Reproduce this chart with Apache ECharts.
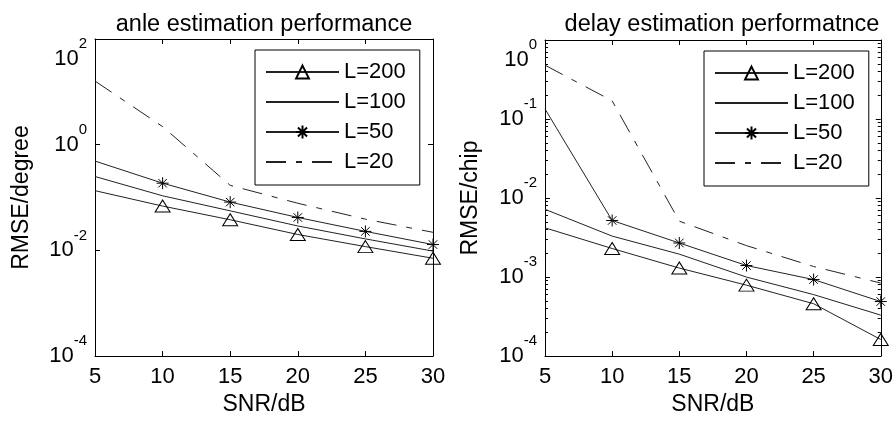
<!DOCTYPE html>
<html><head><meta charset="utf-8">
<script src="https://cdn.jsdelivr.net/npm/echarts@6/dist/echarts.min.js"></script>
<style>html,body{margin:0;padding:0;background:#fff}#c{width:896px;height:421px}</style>
</head><body><div id="c"></div>
<script>
// ---- data ----
const snr = [5, 10, 15, 20, 25, 30];
const seriesNames = ['L=200', 'L=100', 'L=50', 'L=20'];

const angleL200 = [0.135, 0.069, 0.038, 0.020, 0.0118, 0.0071];
const angleL100 = [0.25, 0.108, 0.056, 0.029, 0.0165, 0.0097];
const angleL50  = [0.49, 0.187, 0.082, 0.042, 0.0229, 0.0129];
const angleL20  = [16, 2.2, 0.17, 0.078, 0.039, 0.022];

const delayL200 = [0.0042, 0.0023, 0.0013, 0.00079, 0.00046, 0.000162];
const delayL100 = [0.0072, 0.0033, 0.00195, 0.0010, 0.0006, 0.00033];
const delayL50  = [0.134, 0.0052, 0.0027, 0.0014, 0.00093, 0.00049];
const delayL20  = [0.48, 0.17, 0.0051, 0.0025, 0.00136, 0.00084];

const xTicks = [5, 10, 15, 20, 25, 30];
const angleYTicks = [1e-4, 1e-2, 1, 1e2];
const delayYTicks = [1e-4, 1e-3, 1e-2, 1e-1, 1];
const delayMinorTicks = [2e-4,3e-4,4e-4,5e-4,6e-4,7e-4,8e-4,9e-4,
  2e-3,3e-3,4e-3,5e-3,6e-3,7e-3,8e-3,9e-3,
  2e-2,3e-2,4e-2,5e-2,6e-2,7e-2,8e-2,9e-2,
  0.2,0.3,0.4,0.5,0.6,0.7,0.8,0.9];

const titles = ['anle estimation performance', 'delay estimation performatnce'];
const yNames = ['RMSE/degree', 'RMSE/chip'];
const xName = 'SNR/dB';

// ---- style ----
const FF = 'Liberation Sans, Arial, sans-serif';
const BLACK = '#000';
const LINE = '#222';
const ASTER = 'path://M0,-10L0,10M-10,0L10,0M-7.07,-7.07L7.07,7.07M-7.07,7.07L7.07,-7.07';

function labelFmt(maxV) {
  return function (v) {
    const e = Math.round(Math.log10(v));
    if (Math.abs(v - maxV) < maxV * 1e-6) return '{bt|10}{et|' + e + '}';
    return '{b|10}{e|' + e + '}';
  };
}
const rich = {
  b: { fontSize: 22, fontFamily: FF, color: BLACK },
  e: { fontSize: 15, fontFamily: FF, color: BLACK, padding: [0, 0, 30, 0] },
  bt: { fontSize: 22, fontFamily: FF, color: BLACK, padding: [40, 0, 0, 0] },
  et: { fontSize: 15, fontFamily: FF, color: BLACK, padding: [10, 0, 0, 0] }
};

function xAxes(gi) {
  const base = {
    type: 'value', gridIndex: gi, min: 5, max: 30, interval: 5,
    axisLine: { show: true, lineStyle: { color: BLACK, width: 1 } },
    axisTick: { show: true, inside: true, length: 5, customValues: xTicks, lineStyle: { color: BLACK } },
    splitLine: { show: false }
  };
  return [
    Object.assign({}, base, {
      position: 'bottom',
      axisLabel: { show: true, customValues: xTicks, fontSize: 22, fontFamily: FF, color: BLACK, margin: 10 },
      name: xName, nameLocation: 'middle', nameGap: 31,
      nameTextStyle: { fontSize: 23, fontFamily: FF, color: BLACK }
    }),
    Object.assign({}, base, { position: 'top', axisLabel: { show: false } })
  ];
}

function yAxes(gi, min, max, majors, minors, name, gap) {
  const base = {
    type: 'log', logBase: 10, gridIndex: gi, min: min, max: max,
    splitLine: { show: false }
  };
  const list = [
    Object.assign({}, base, {
      position: 'left',
      axisLine: { show: true, lineStyle: { color: BLACK, width: 1 } },
      axisTick: { show: true, inside: true, length: 5, customValues: majors, lineStyle: { color: BLACK } },
      axisLabel: { show: true, customValues: majors, margin: 8, formatter: labelFmt(max), rich: rich },
      name: name, nameLocation: 'middle', nameGap: gap,
      nameTextStyle: { fontSize: 23, fontFamily: FF, color: BLACK }
    }),
    Object.assign({}, base, {
      position: 'right',
      axisLine: { show: true, lineStyle: { color: BLACK, width: 1 } },
      axisTick: { show: true, inside: true, length: 5, customValues: majors, lineStyle: { color: BLACK } },
      axisLabel: { show: false }
    })
  ];
  if (minors) {
    ['left', 'right'].forEach(function (p) {
      list.push(Object.assign({}, base, {
        position: p,
        axisLine: { show: false },
        axisTick: { show: true, inside: true, length: 3, customValues: minors, lineStyle: { color: BLACK } },
        axisLabel: { show: false }
      }));
    });
  }
  return list;
}

// first sample (SNR=5) is drawn without a marker, as in the reference
function zip(arr) {
  return snr.map(function (x, i) {
    return i === 0 ? { value: [x, arr[i]], symbol: 'none' } : [x, arr[i]];
  });
}

function makeSeries(xi, yi, d200, d100, d50, d20) {
  const common = { type: 'line', xAxisIndex: xi, yAxisIndex: yi, animation: false, z: 3 };
  return [
    Object.assign({}, common, {
      name: seriesNames[0], data: zip(d200), symbol: 'triangle', symbolSize: [15, 12],
      lineStyle: { color: LINE, width: 1 },
      itemStyle: { color: 'rgba(255,255,255,0)', borderColor: BLACK, borderWidth: 1 }
    }),
    Object.assign({}, common, {
      name: seriesNames[1], data: zip(d100), symbol: 'none',
      lineStyle: { color: LINE, width: 1 }, itemStyle: { color: LINE }
    }),
    Object.assign({}, common, {
      name: seriesNames[2], data: zip(d50), symbol: ASTER, symbolSize: 12,
      lineStyle: { color: LINE, width: 1 },
      itemStyle: { color: 'rgba(255,255,255,0)', borderColor: BLACK, borderWidth: 1 }
    }),
    Object.assign({}, common, {
      name: seriesNames[3], data: zip(d20), symbol: 'none',
      lineStyle: { color: LINE, width: 1, type: [20, 10, 6, 10] }, itemStyle: { color: LINE }
    })
  ];
}

const hiddenMark = { opacity: 0, color: 'rgba(0,0,0,0)', borderWidth: 0 };
function legend(left, top) {
  return {
    left: left, top: top, orient: 'vertical', selectedMode: false,
    itemWidth: 73, itemHeight: 16, itemGap: 8,
    padding: [11, 14, 12, 10],
    borderColor: BLACK, borderWidth: 1, backgroundColor: '#fff',
    textStyle: { fontSize: 22, fontFamily: FF, color: BLACK, lineHeight: 22 },
    data: [
      { name: seriesNames[0] },
      { name: seriesNames[1], itemStyle: hiddenMark },
      { name: seriesNames[2] },
      { name: seriesNames[3], itemStyle: hiddenMark }
    ]
  };
}

const yA = yAxes(0, 1e-4, 1e2, angleYTicks, null, yNames[0], 62);
const yD = yAxes(1, 1e-4, 1, delayYTicks, delayMinorTicks, yNames[1], 63);

const option = {
  backgroundColor: '#fff',
  animation: false,
  title: [
    { text: titles[0], left: 259, top: 8, textAlign: 'center',
      textStyle: { fontSize: 23.5, fontWeight: 'normal', fontFamily: FF, color: BLACK } },
    { text: titles[1], left: 717, top: 8, textAlign: 'center',
      textStyle: { fontSize: 23.5, fontWeight: 'normal', fontFamily: FF, color: BLACK } }
  ],
  grid: [
    { left: 95, top: 39, width: 338, height: 322 },
    { left: 545, top: 40, width: 338, height: 320 }
  ],
  xAxis: xAxes(0).concat(xAxes(1)),
  yAxis: yA.concat(yD),
  legend: [legend(255, 50), legend(704, 51)],
  series: makeSeries(0, 0, angleL200, angleL100, angleL50, angleL20)
    .concat(makeSeries(2, yA.length, delayL200, delayL100, delayL50, delayL20))
};

const chart = echarts.init(document.getElementById('c'), null, { renderer: 'canvas' });
chart.setOption(option);
</script>
</body></html>
